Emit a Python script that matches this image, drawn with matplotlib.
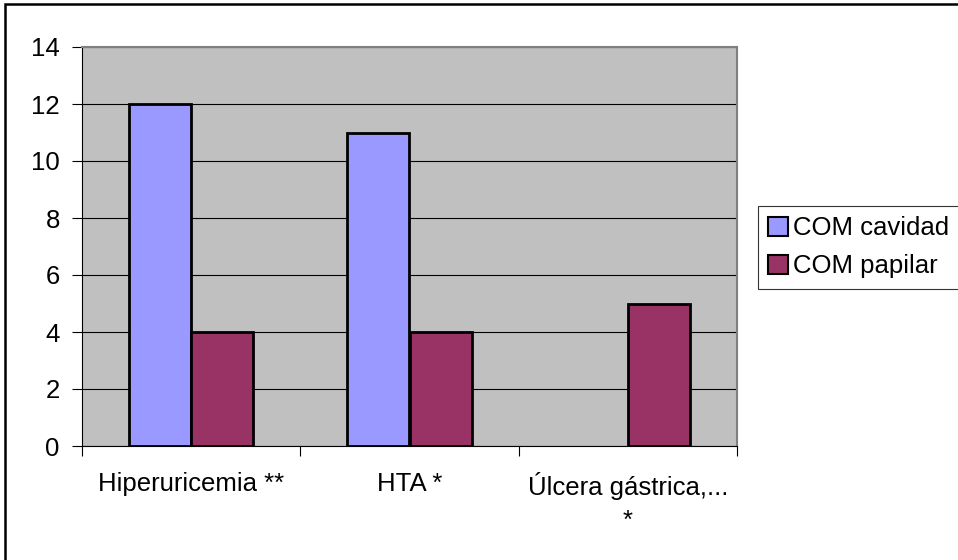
import matplotlib
matplotlib.use("Agg")
import matplotlib.pyplot as plt
import numpy as np
from matplotlib.patches import Rectangle

categories = ["Hiperuricemia **", "HTA *", "Úlcera gástrica,...\n*"]
series_names = ["COM cavidad", "COM papilar"]
cavidad = [12, 11, 0]
papilar = [4, 4, 5]
yticks = [0, 2, 4, 6, 8, 10, 12, 14]

plt.rcParams['font.family'] = ['Liberation Sans', 'DejaVu Sans']
FS = 18.5

W, H = 958, 560
fig = plt.figure(figsize=(W/100, H/100), dpi=100)
fig.patch.set_facecolor('white')
fig.patches.append(Rectangle((5/W, -20/H), (W+20)/W, (H+20-4)/H, transform=fig.transFigure,
                             fill=False, edgecolor='black', linewidth=1.8, zorder=0))

left, right, top, bottom = 82, 737, 47, 446
ax = fig.add_axes([left/W, 1-bottom/H, (right-left)/W, (bottom-top)/H])
ax.set_facecolor('#C0C0C0')

x = np.arange(len(categories))
bw = 0.285
b1 = ax.bar(x - bw/2, cavidad, width=bw, color='#9999FF', edgecolor='black', linewidth=2,
            label=series_names[0], zorder=3)
b2 = ax.bar(x + bw/2, papilar, width=bw, color='#993366', edgecolor='black', linewidth=2,
            label=series_names[1], zorder=3)
for bars, vals in ((b1, cavidad), (b2, papilar)):
    for r, v in zip(bars, vals):
        if v == 0:
            r.set_visible(False)

ax.set_xlim(-0.5, len(categories) - 0.5)
ax.set_ylim(0, 14)
ax.set_yticks(yticks)
ax.set_yticklabels([str(v) for v in yticks], fontsize=FS)
ax.yaxis.grid(True, color='black', linewidth=0.8, zorder=1)
ax.set_axisbelow(True)

ax.set_xticks(x)
ax.set_xticklabels(categories, fontsize=FS, linespacing=1.45)
ax.tick_params(axis='x', length=0, pad=19)
ax.set_xticks(np.arange(len(categories) + 1) - 0.5, minor=True)
ax.tick_params(axis='x', which='minor', length=7, width=0.8, direction='out', color='black')
ax.tick_params(axis='y', length=7, width=0.8, direction='out', pad=9)

for s in ['top', 'right']:
    ax.spines[s].set_color('#808080')
    ax.spines[s].set_linewidth(1.5)
ax.spines['left'].set_color('black')
ax.spines['left'].set_linewidth(0.8)
ax.spines['bottom'].set_color('black')
ax.spines['bottom'].set_linewidth(0.8)

leg = fig.legend(loc='upper left', bbox_to_anchor=(758/W, 1-287/H, 230/W, 81/H), mode='expand',
                 fontsize=FS, frameon=True, fancybox=False, edgecolor='black',
                 handlelength=0.75, handleheight=0.75, handletextpad=0.2, borderpad=0.4,
                 labelspacing=0.55, borderaxespad=0)
leg.get_frame().set_linewidth(0.8)
for h in leg.legend_handles:
    h.set_linewidth(1.5)

fig.savefig("out.png", dpi=100)
